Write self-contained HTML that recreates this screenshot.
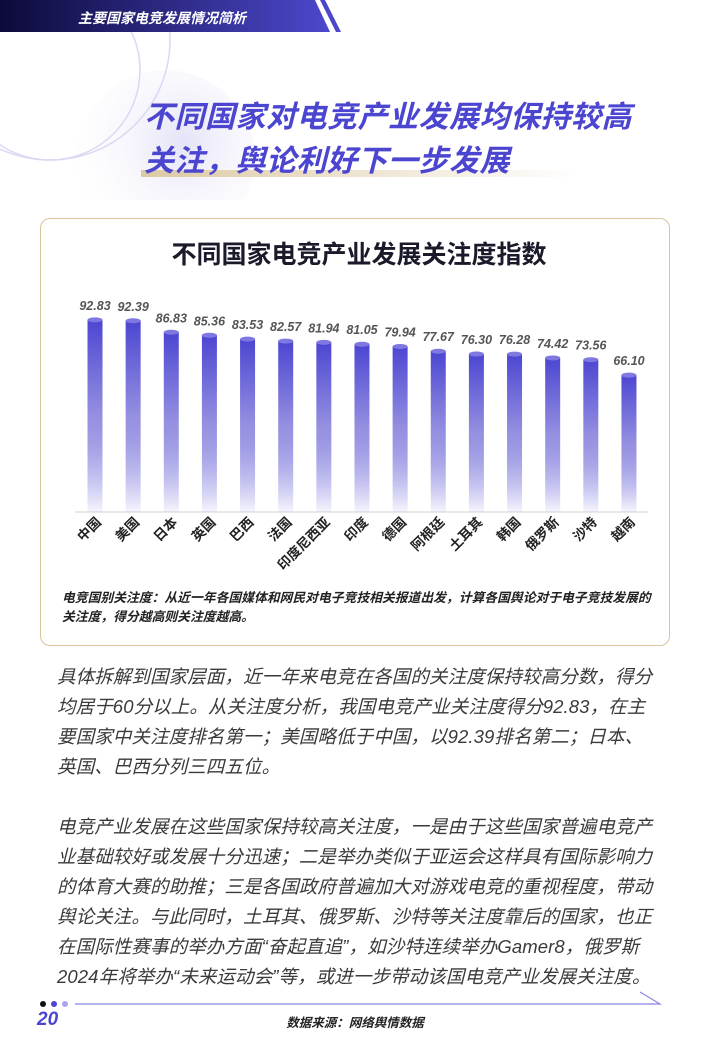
<!DOCTYPE html>
<html><head><meta charset="utf-8"><style>
body{margin:0;width:710px;height:1064px;background:#fff;position:relative;overflow:hidden;font-family:"Liberation Sans","Noto Sans CJK SC",sans-serif;}
.abs{position:absolute}
.bt{position:absolute;left:57px;font-size:18.5px;color:#3a3a3a;font-style:italic;white-space:nowrap;letter-spacing:0.1px;line-height:30px}
</style></head><body>
<svg class="abs" style="left:0;top:0" width="710" height="200">
<defs><linearGradient id="hd" x1="0" x2="1"><stop offset="0" stop-color="#0c0a3a"/><stop offset="1" stop-color="#4c48cc"/></linearGradient>
<linearGradient id="ul" x1="0" x2="1"><stop offset="0" stop-color="#dcc9a4"/><stop offset="1" stop-color="#fff"/></linearGradient>
<radialGradient id="cg" cx="0.6" cy="0.4" r="0.7"><stop offset="0" stop-color="#e4e3f7"/><stop offset="1" stop-color="#fff" stop-opacity="0"/></radialGradient></defs>
<circle cx="165" cy="160" r="90" fill="url(#cg)"/>
<circle cx="50" cy="40" r="120" fill="none" stroke="#dad8f3" stroke-width="1.5"/>
<circle cx="50" cy="70" r="90" fill="none" stroke="#dad8f3" stroke-width="1.5"/>
<polygon points="0,0 315,0 330,32 0,32" fill="url(#hd)"/>
<polygon points="320,0 325,0 341,32 336,32" fill="#4c48cc"/>
<text x="78" y="23" font-size="14" font-weight="bold" fill="#fff" font-style="italic">主要国家电竞发展情况简析</text>
<rect x="141" y="170" width="440" height="7" fill="url(#ul)"/>
</svg>
<div class="abs" style="left:144px;top:96px;font-size:30px;font-weight:bold;color:#4b45d0;line-height:44px;font-style:italic;letter-spacing:0.5px">不同国家对电竞产业发展均保持较高<br>关注，舆论利好下一步发展</div>
<div class="abs" style="left:40px;top:218px;width:628px;height:426px;border:1.5px solid #dcc49a;border-radius:10px"></div>
<svg class="abs" style="left:0;top:0" width="710" height="650">
<defs><linearGradient id="bg" x1="0" y1="0" x2="0" y2="1"><stop offset="0" stop-color="#4c46d2"/><stop offset="0.5" stop-color="#9590e0"/><stop offset="1" stop-color="#4c46d2" stop-opacity="0.05"/></linearGradient></defs>
<text x="359" y="263" text-anchor="middle" font-size="25" font-weight="bold" fill="#1a1a2a">不同国家电竞产业发展关注度指数</text>
<line x1="75" y1="512" x2="648" y2="512" stroke="#e2e2e2" stroke-width="1.5"/>
<g id="bars" font-size="12.5" font-style="italic" font-weight="bold" fill="#555" text-anchor="middle"></g>
<text x="62" y="602" font-size="12.8" font-weight="bold" fill="#222" font-style="italic">电竞国别关注度：从近一年各国媒体和网民对电子竞技相关报道出发，计算各国舆论对于电子竞技发展的</text>
<text x="62" y="621" font-size="12.8" font-weight="bold" fill="#222" font-style="italic">关注度，得分越高则关注度越高。</text>
</svg>
<div class="bt" style="top:662px">具体拆解到国家层面，近一年来电竞在各国的关注度保持较高分数，得分</div>
<div class="bt" style="top:692px">均居于60分以上。从关注度分析，我国电竞产业关注度得分92.83，在主</div>
<div class="bt" style="top:722px">要国家中关注度排名第一；美国略低于中国，以92.39排名第二；日本、</div>
<div class="bt" style="top:752px">英国、巴西分列三四五位。</div>
<div class="bt" style="top:812px">电竞产业发展在这些国家保持较高关注度，一是由于这些国家普遍电竞产</div>
<div class="bt" style="top:842px">业基础较好或发展十分迅速；二是举办类似于亚运会这样具有国际影响力</div>
<div class="bt" style="top:872px">的体育大赛的助推；三是各国政府普遍加大对游戏电竞的重视程度，带动</div>
<div class="bt" style="top:902px">舆论关注。与此同时，土耳其、俄罗斯、沙特等关注度靠后的国家，也正</div>
<div class="bt" style="top:932px">在国际性赛事的举办方面“奋起直追”，如沙特连续举办Gamer8，俄罗斯</div>
<div class="bt" style="top:962px">2024年将举办“未来运动会”等，或进一步带动该国电竞产业发展关注度。</div>
<svg class="abs" style="left:0;top:990px" width="710" height="74">
<circle cx="43" cy="14" r="3" fill="#111"/><circle cx="54" cy="14" r="3" fill="#4c46d2"/><circle cx="65" cy="14" r="3" fill="#a9a5ea"/>
<polyline points="75,14 660,14 640,2" fill="none" stroke="#8a85e6" stroke-width="1.2"/>
<text x="37" y="35" font-size="19" font-weight="bold" font-style="italic" fill="#4c46d2">20</text>
<text x="355" y="37" text-anchor="middle" font-size="12.5" font-weight="bold" font-style="italic" fill="#222">数据来源：网络舆情数据</text>
</svg>
<script>
var d=[["中国",92.83],["美国",92.39],["日本",86.83],["英国",85.36],["巴西",83.53],["法国",82.57],["印度尼西亚",81.94],["印度",81.05],["德国",79.94],["阿根廷",77.67],["土耳其",76.30],["韩国",76.28],["俄罗斯",74.42],["沙特",73.56],["越南",66.10]];
var g=document.getElementById('bars'),s='';
d.forEach(function(e,i){var cx=95+i*38.14,h=e[1]*2.07,y=512-h;
s+='<rect x="'+(cx-7.5)+'" y="'+y+'" width="15" height="'+h+'" fill="url(#bg)"/>';
s+='<ellipse cx="'+cx+'" cy="'+y+'" rx="7.5" ry="2.5" fill="#7e78e0"/>';
s+='<text x="'+cx+'" y="'+(y-10)+'">'+e[1].toFixed(2)+'</text>';
s+='<text transform="translate('+(cx+7)+',523) rotate(-45)" text-anchor="end" font-style="normal" fill="#222" font-size="13.5">'+e[0]+'</text>';});
g.innerHTML=s;
</script>
</body></html>
